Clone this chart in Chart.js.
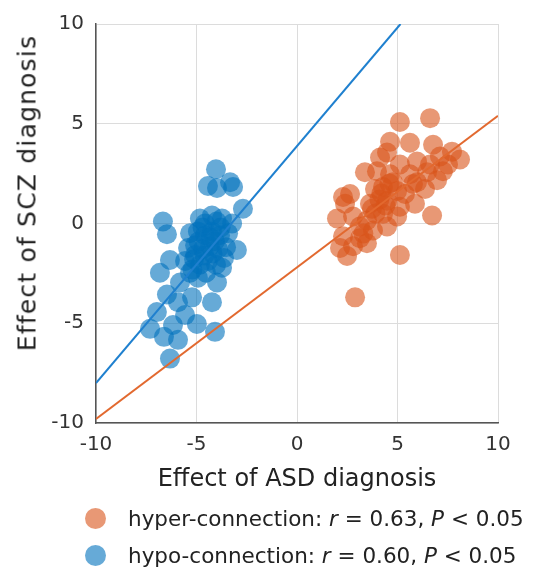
<!DOCTYPE html>
<html>
<head>
<meta charset="utf-8">
<script src="https://cdn.jsdelivr.net/npm/chart.js@4/dist/chart.umd.min.js"></script>
<style>
  html, body { margin: 0; padding: 0; background: #fff; }
  #wrap { position: relative; width: 534px; height: 574px; }
  #legend { position: absolute; left: 85px; top: 500px; font-family: "DejaVu Sans", sans-serif; font-size: 21.5px; color: #222; }
  #legend div { height: 37px; line-height: 37px; white-space: nowrap; }
  #legend span.dot { display: inline-block; width: 21px; height: 21px; border-radius: 50%; vertical-align: -3px; margin-right: 22px; }
  #ytitle { position: absolute; left: 27px; top: 193px; transform: translate(-50%, -50%) rotate(-90deg);
    font-family: "DejaVu Sans", sans-serif; font-size: 25px; letter-spacing: 1.2px; color: #222; white-space: nowrap; }
</style>
</head>
<body>
<div id="wrap">
  <canvas id="myChart" width="534" height="574"></canvas>
  <div id="ytitle">Effect of SCZ diagnosis</div>
  <div id="legend">
    <div><span class="dot" style="background: rgba(217,83,25,0.6)"></span>hyper-connection: <i>r</i> = 0.63, <i>P</i> &lt; 0.05</div>
    <div><span class="dot" style="background: rgba(0,114,189,0.6)"></span>hypo-connection: <i>r</i> = 0.60, <i>P</i> &lt; 0.05</div>
  </div>
</div>
<script>
"use strict";

// hyper-connection edges (ASD effect, SCZ effect)
const hyperX = [5.12, 6.62, 4.63, 5.62, 6.77, 4.13, 4.48, 5.12, 5.97, 7.11, 8.11, 3.38, 3.98, 4.63, 5.62, 6.47, 7.26,
  4.28, 4.98, 5.77, 2.29, 2.64, 3.63, 4.48, 5.12, 5.87, 6.72, 1.99, 2.79, 3.48, 4.28, 4.98, 2.29, 3.13, 3.78, 4.48,
  2.49, 2.79, 3.48, 5.12, 2.89, 7.71, 6.37, 6.97, 2.39, 3.88, 4.78, 5.37, 2.14, 3.13, 3.73, 5.97, 6.62, 7.51,
  4.1, 4.4, 3.9, 4.6, 3.3, 4.2];
const hyperY = [5.09, 5.28, 4.10, 4.05, 3.95, 3.31, 3.56, 2.96, 3.11, 3.36, 3.21, 2.57, 2.62, 2.47, 2.47, 2.57, 2.62,
  1.83, 1.63, 1.98, 1.33, 1.48, 0.99, 1.14, 0.84, 0.99, 0.40, 0.25, 0.35, 0.15, 0.49, 0.35, -0.64, -0.15, -0.35, -0.15,
  -1.63, -1.14, -0.99, -1.58, -3.70, 3.60, 1.73, 2.17, 0.99, 1.73, 2.07, 1.48, -1.23, -0.74, 0.74, 2.07, 2.96, 2.96,
  1.2, 0.9, 0.5, 2.0, -0.5, 1.5];

// hypo-connection edges
const hypoX = [-4.03, -4.43, -3.98, -3.33, -3.18, -2.69, -6.67, -6.47, -4.83, -4.23, -3.73, -3.23, -2.99, -5.32, -4.93,
  -4.58, -4.23, -3.83, -3.43, -5.42, -5.07, -4.68, -4.33, -3.93, -3.53, -5.57, -5.12, -4.83, -4.43, -4.03, -5.32, -4.93,
  -4.53, -3.73, -3.98, -4.23, -6.32, -6.82, -6.47, -6.97, -7.31, -6.17, -5.57, -6.32, -4.98, -4.08, -5.92, -5.82, -5.22,
  -5.92, -6.62, -4.58, -4.08, -5.07, -3.63, -4.7, -4.3, -4.0, -4.6, -4.9, -4.2, -3.8, -5.2];
const hypoY = [2.72, 1.88, 1.78, 2.07, 1.83, 0.74, 0.10, -0.54, 0.25, 0.40, 0.25, 0.00, -1.33, -0.49, -0.40,
  -0.59, -0.40, -0.59, -0.49, -1.23, -1.09, -1.28, -1.14, -1.28, -1.19, -1.88, -1.78, -2.07, -1.88, -2.07, -2.47, -2.72,
  -2.47, -2.22, -2.96, -3.95, -1.83, -2.47, -3.56, -4.44, -5.28, -5.09, -4.59, -6.77, -5.04, -5.43, -3.95, -2.96, -3.70,
  -5.83, -5.68, 0.00, -0.89, -1.58, -1.73, -0.2, -0.7, 0.1, -1.6, -0.9, -1.5, -0.2, -2.3];

// least-squares fit lines, end points
const hyperFitX = [-10, 10];
const hyperFitY = [-9.8, 5.4];
const hypoFitX = [-10, 5.15];
const hypoFitY = [-8, 10];

const axisTicks = [-10, -5, 0, 5, 10];

const toPoints = (xs, ys) => xs.map((x, i) => ({ x: x, y: ys[i] }));
const fontFamily = '"DejaVu Sans", sans-serif';

const ctx = document.getElementById("myChart").getContext("2d");
const myChart = new Chart(ctx, {
  type: "scatter",
  data: {
    datasets: [
      {
        type: "line",
        data: toPoints(hypoFitX, hypoFitY),
        borderColor: "#1f80cf",
        borderWidth: 2,
        pointRadius: 0,
        order: 0,
      },
      {
        type: "line",
        data: toPoints(hyperFitX, hyperFitY),
        borderColor: "#e2692f",
        borderWidth: 2,
        pointRadius: 0,
        order: 0,
      },
      {
        label: "hyper-connection",
        data: toPoints(hyperX, hyperY),
        backgroundColor: "rgba(217, 83, 25, 0.6)",
        borderWidth: 0,
        pointRadius: 10,
        order: 1,
      },
      {
        label: "hypo-connection",
        data: toPoints(hypoX, hypoY),
        backgroundColor: "rgba(0, 114, 189, 0.6)",
        borderWidth: 0,
        pointRadius: 10,
        order: 1,
      },
    ],
  },
  options: {
    responsive: false,
    animation: false,
    layout: { padding: { top: 18, right: 36, bottom: 76, left: 0 } },
    plugins: {
      legend: { display: false },
      tooltip: { enabled: false },
    },
    scales: {
      x: {
        type: "linear",
        min: -10,
        max: 10,
        afterBuildTicks: (scale) => { scale.ticks = axisTicks.map((v) => ({ value: v })); },
        afterFit: (scale) => { scale.height = 75; },
        ticks: { color: "#333", font: { family: fontFamily, size: 20 }, padding: 10 },
        grid: { color: "#dcdcdc", drawTicks: false },
        border: { color: "#555", width: 1.5 },
        title: { display: true, text: "Effect of ASD diagnosis", color: "#222", font: { family: fontFamily, size: 24 }, padding: { top: 2 } },
      },
      y: {
        type: "linear",
        min: -10,
        max: 10,
        afterBuildTicks: (scale) => { scale.ticks = axisTicks.map((v) => ({ value: v })); },
        afterFit: (scale) => { scale.width = 96; },
        ticks: { color: "#333", font: { family: fontFamily, size: 20 }, padding: 12 },
        grid: { color: "#dcdcdc", drawTicks: false },
        border: { color: "#555", width: 1.5 },
        title: { display: false },
      },
    },
  },
});
</script>
</body>
</html>
